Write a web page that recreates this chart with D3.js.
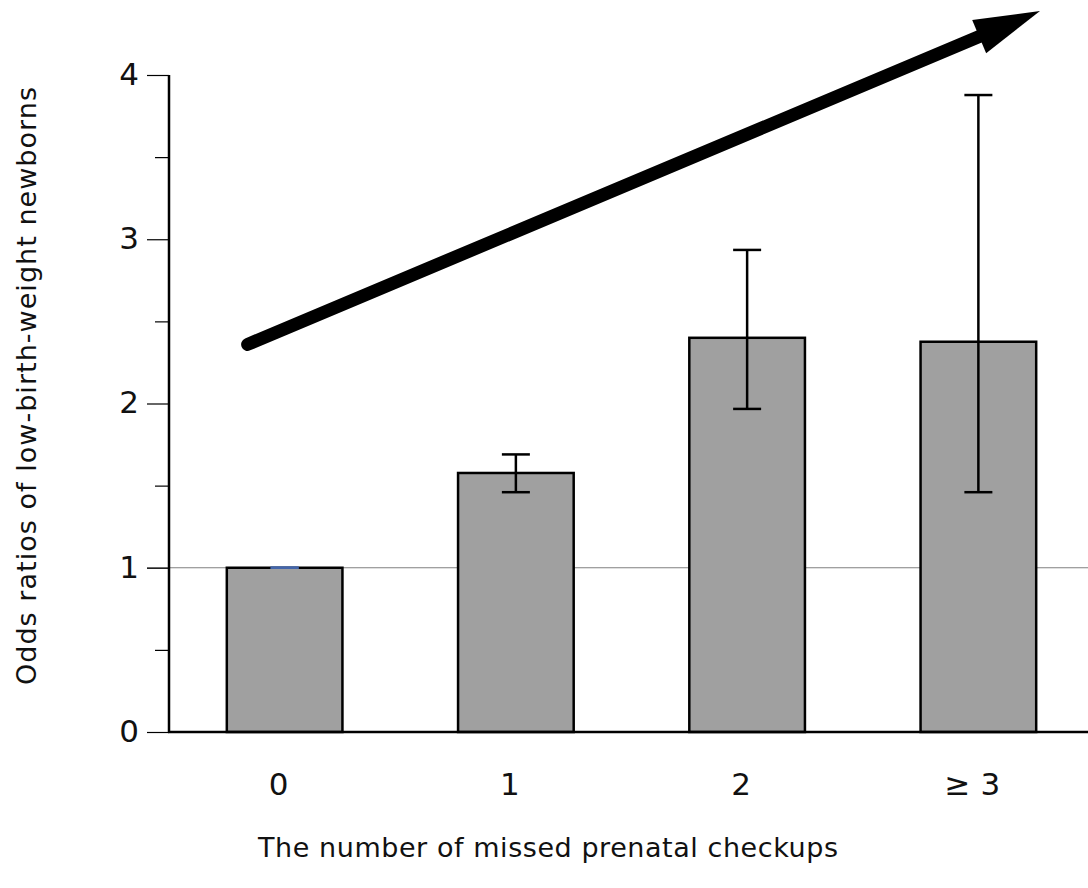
<!DOCTYPE html>
<html><head><meta charset="utf-8">
<script src="https://cdn.jsdelivr.net/npm/d3@7"></script>
<style>body{margin:0;background:#fff;} svg{display:block;}</style>
</head><body>
<svg id="c" width="1088" height="888"></svg>
<script>
const categories = ["0", "1", "2", "\u2265 3"];
const oddsRatios = [1.0, 1.577, 2.40, 2.376];
const ciLower = [1.0, 1.46, 1.967, 1.46];
const ciUpper = [1.0, 1.69, 2.935, 3.878];
const majorTicks = [0, 1, 2, 3, 4];
const minorTicks = [0.5, 1.5, 2.5, 3.5];
const referenceValue = 1;
const trendArrow = [{x: 0, y: 2.36}, {x: 3.35, y: 4.4}];
const yTitle = "Odds ratios of low-birth-weight newborns";
const xTitle = "The number of missed prenatal checkups";

const svg = d3.select("#c");
const font = "DejaVu Sans, Verdana, sans-serif";
const x0 = 169, xEnd = 1094, yBase = 732, yTop = 75;

const x = d3.scaleBand().domain(categories).range([x0, xEnd]).paddingInner(0.5).paddingOuter(0.25);
const y = d3.scaleLinear().domain([0, 4]).range([yBase, yTop]);

// reference line
svg.append("line").attr("x1", x0 - 22).attr("x2", 1088)
  .attr("y1", y(referenceValue)).attr("y2", y(referenceValue))
  .attr("stroke", "#808080").attr("stroke-width", 1.2);

// bars
svg.selectAll("rect.bar").data(categories).enter().append("rect")
  .attr("x", d => x(d)).attr("width", x.bandwidth())
  .attr("y", (d, i) => y(oddsRatios[i])).attr("height", (d, i) => y(0) - y(oddsRatios[i]))
  .attr("fill", "#a0a0a0").attr("stroke", "#000").attr("stroke-width", 2.5);

// error bars
const capW = 28;
categories.forEach((c, i) => {
  const cx = x(c) + x.bandwidth() / 2;
  const col = ciUpper[i] === ciLower[i] ? "#4466aa" : "#000";
  const g = svg.append("g").attr("stroke", col).attr("stroke-width", 2.5);
  g.append("line").attr("x1", cx).attr("x2", cx).attr("y1", y(ciLower[i])).attr("y2", y(ciUpper[i]));
  g.append("line").attr("x1", cx - capW / 2).attr("x2", cx + capW / 2).attr("y1", y(ciUpper[i])).attr("y2", y(ciUpper[i]));
  g.append("line").attr("x1", cx - capW / 2).attr("x2", cx + capW / 2).attr("y1", y(ciLower[i])).attr("y2", y(ciLower[i]));
});

// y axis
const yAxis = d3.axisLeft(y).tickValues(majorTicks).tickSize(22).tickPadding(8).tickFormat(d3.format("d"));
const ya = svg.append("g").attr("transform", `translate(${x0},0)`).call(yAxis);
ya.select(".domain").remove();
ya.selectAll(".tick line").attr("stroke", "#000").attr("stroke-width", 1.2);
ya.selectAll(".tick text").attr("font-family", font).attr("font-size", 31).attr("fill", "#111").attr("dy", "0.3em");
const yMinor = d3.axisLeft(y).tickValues(minorTicks).tickSize(14).tickFormat("");
const ym = svg.append("g").attr("transform", `translate(${x0},0)`).call(yMinor);
ym.select(".domain").remove();
ym.selectAll(".tick line").attr("stroke", "#000").attr("stroke-width", 1.2);
svg.append("line").attr("x1", x0).attr("x2", x0).attr("y1", y(4)).attr("y2", y(0) + 1)
  .attr("stroke", "#000").attr("stroke-width", 2.5);

// x axis
const xAxis = d3.axisBottom(x).tickSize(0).tickPadding(41);
const xa = svg.append("g").attr("transform", `translate(0,${yBase})`).call(xAxis);
xa.select(".domain").remove();
xa.selectAll(".tick text").attr("font-family", font).attr("font-size", 31).attr("fill", "#111").attr("dx", -6);
svg.append("line").attr("x1", x0 - 1).attr("x2", 1088).attr("y1", yBase).attr("y2", yBase)
  .attr("stroke", "#000").attr("stroke-width", 2.5);

// titles
svg.append("text").attr("x", 548).attr("y", 857).attr("text-anchor", "middle")
  .attr("font-family", font).attr("font-size", 27).attr("fill", "#111")
  .attr("textLength", 580).attr("lengthAdjust", "spacing").text(xTitle);
svg.append("text").attr("transform", `translate(36,386) rotate(-90)`).attr("text-anchor", "middle")
  .attr("font-family", font).attr("font-size", 27).attr("fill", "#111")
  .attr("textLength", 598).attr("lengthAdjust", "spacing").text(yTitle);

// trend arrow
const ax = d3.scaleLinear().domain([0, 3]).range([x(categories[0]) + x.bandwidth()/2 - 37, x(categories[3]) + x.bandwidth()/2 - 37]);
const p0 = [ax(trendArrow[0].x), y(trendArrow[0].y)];
const p1 = [1040, 11];
const dx = p1[0] - p0[0], dy = p1[1] - p0[1], L = Math.hypot(dx, dy);
const ux = dx / L, uy = dy / L, nx = -uy, ny = ux;
const headLen = 66, headHalf = 18;
const base = [p1[0] - ux * headLen, p1[1] - uy * headLen];
svg.append("line").attr("x1", p0[0]).attr("y1", p0[1])
  .attr("x2", base[0] + ux * 4).attr("y2", base[1] + uy * 4)
  .attr("stroke", "#000").attr("stroke-width", 13).attr("stroke-linecap", "round");
svg.append("path").attr("d", d3.line()([
  p1, [base[0] + nx * headHalf, base[1] + ny * headHalf], [base[0] - nx * headHalf, base[1] - ny * headHalf]
]) + "Z").attr("fill", "#000");
</script>
</body></html>
